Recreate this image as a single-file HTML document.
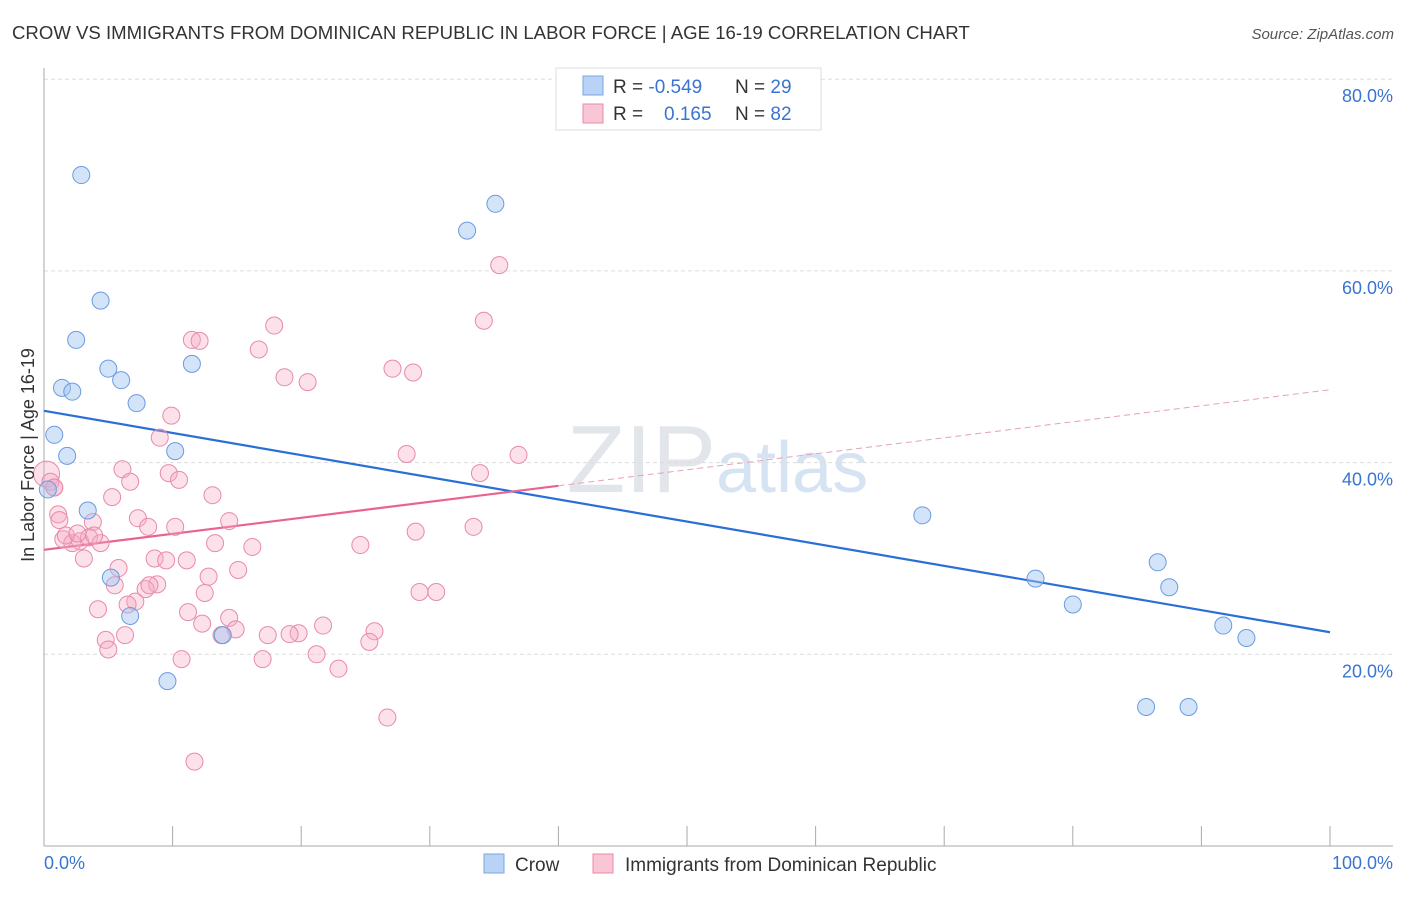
<!DOCTYPE html>
<html><head><meta charset="utf-8"><style>
body{margin:0;background:#fff;font-family:"Liberation Sans",sans-serif;}
svg text{font-family:"Liberation Sans",sans-serif;}
</style></head><body>
<svg id="chart" width="1406" height="892">
<text x="12" y="39" font-size="18.6" fill="#333">CROW VS IMMIGRANTS FROM DOMINICAN REPUBLIC IN LABOR FORCE | AGE 16-19 CORRELATION CHART</text>
<text x="1394" y="39" font-size="15" fill="#555" font-style="italic" text-anchor="end">Source: ZipAtlas.com</text>
<text x="716" y="492" font-size="96" fill="#e2e5ea" text-anchor="end" font-family="Liberation Serif">ZIP</text>
<text x="716" y="492" font-size="72" fill="#d6e3f3">atlas</text>
<g id="grid"></g><g id="axes"></g><g id="trend"></g><g id="pts"></g>
<text transform="translate(34,455) rotate(-90)" font-size="18" fill="#333" text-anchor="middle">In Labor Force | Age 16-19</text>
<text x="44" y="869" font-size="18" fill="#3a74d0">0.0%</text>
<text x="1393" y="869" font-size="18" fill="#3a74d0" text-anchor="end">100.0%</text>
<g>
<rect x="556" y="68" width="265" height="62" fill="#fff" stroke="#ddd"/>
<rect x="583" y="76" width="20" height="19" fill="#b8d3f5" stroke="#7aa7e0"/>
<rect x="583" y="104" width="20" height="19" fill="#f9c6d6" stroke="#e88aa8"/>
<text x="613" y="93" font-size="19" fill="#333">R = <tspan fill="#3a74d0">-0.549</tspan><tspan x="735">N = </tspan><tspan fill="#3a74d0">29</tspan></text>
<text x="613" y="120" font-size="19" fill="#333">R = <tspan x="664" fill="#3a74d0">0.165</tspan><tspan x="735">N = </tspan><tspan fill="#3a74d0">82</tspan></text>
</g>
<g>
<rect x="484" y="854" width="20" height="19" fill="#b8d3f5" stroke="#7aa7e0"/>
<text x="515" y="871" font-size="19" fill="#333">Crow</text>
<rect x="593" y="854" width="20" height="19" fill="#f9c6d6" stroke="#e88aa8"/>
<text x="625" y="871" font-size="19" fill="#333">Immigrants from Dominican Republic</text>
</g>
</svg>
<script>
const yTicks=[20,40,60,80];
const yTickLabels=["20.0%","40.0%","60.0%","80.0%"];
const xTicks=[0,10,20,30,40,50,60,70,80,90,100];
const crowX=[2.9,35.1,32.9,4.4,2.5,5.0,6.0,11.5,1.4,2.2,7.2,0.8,1.8,10.2,0.3,3.4,5.2,6.7,13.9,9.6,68.3,77.1,80.0,86.6,87.5,91.7,93.5,85.7,89.0];
const crowY=[70.0,67.0,64.2,56.9,52.8,49.8,48.6,50.3,47.8,47.4,46.2,42.9,40.7,41.2,37.2,35.0,28.0,24.0,22.0,17.2,34.5,27.9,25.2,29.6,27.0,23.0,21.7,14.5,14.5];
const domX=[35.4,34.2,17.9,11.5,12.1,16.7,27.1,28.7,18.7,20.5,9.9,9.0,28.2,36.9,0.2,33.9,6.1,9.7,10.5,6.7,0.8,13.1,5.3,1.1,7.3,3.8,14.4,8.1,1.2,10.2,28.9,33.4,1.5,2.2,2.8,3.5,4.4,13.3,16.2,24.6,8.6,11.1,9.5,3.1,15.1,5.8,12.8,5.5,8.8,7.9,8.2,12.5,29.2,30.5,7.1,6.5,4.2,14.4,12.3,14.9,21.7,19.8,11.2,17.4,19.1,25.7,25.3,6.3,4.8,13.8,5.0,21.2,10.7,17.0,22.9,26.7,11.7,0.5,1.7,2.6,3.9,0.8];
const domY=[60.6,54.8,54.3,52.8,52.7,51.8,49.8,49.4,48.9,48.4,44.9,42.6,40.9,40.8,38.8,38.9,39.3,38.9,38.2,38.0,37.4,36.6,36.4,34.6,34.2,33.8,33.9,33.3,34.0,33.3,32.8,33.3,32.0,31.6,31.8,32.2,31.6,31.6,31.2,31.4,30.0,29.8,29.8,30.0,28.8,29.0,28.1,27.2,27.3,26.8,27.2,26.4,26.5,26.5,25.5,25.2,24.7,23.8,23.2,22.6,23.0,22.2,24.4,22.0,22.1,22.4,21.3,22.0,21.5,22.0,20.5,20.0,19.5,19.5,18.5,13.4,8.8,38.0,32.4,32.6,32.4,37.4];
const crowTrend=[45.4,22.3];
const domTrend=[30.9,47.6];
const domSolidEnd=40;
const X=v=>44+v*12.86, Y=v=>846-v*9.585;
const NS="http://www.w3.org/2000/svg";
function mk(parent,tag,attrs){const e=document.createElementNS(NS,tag);for(const k in attrs)e.setAttribute(k,attrs[k]);document.getElementById(parent).appendChild(e);return e;}
yTicks.forEach((t,i)=>{
 const l=mk('grid','line',{x1:44,x2:1393,y1:Y(t),y2:Y(t),stroke:'#ddd','stroke-dasharray':'4 3'});
 
 
 const tx=mk('grid','text',{x:1393,y:Y(t)+23,'font-size':18,fill:'#3a74d0','text-anchor':'end'});
 tx.textContent=yTickLabels[i];
 
 
});
const ax=mk('axes','line',{x1:44,x2:44,y1:68,y2:846,stroke:'#aaa'});


const bx=mk('axes','line',{x1:44,x2:1393,y1:846,y2:846,stroke:'#aaa'});


xTicks.forEach(t=>{const l=mk('axes','line',{x1:X(t),x2:X(t),y1:826,y2:846,stroke:'#aaa'});
 
 });
domX.forEach((x,i)=>{const c=mk('pts','circle',{cx:X(x),cy:Y(domY[i]),r:i==14?13:8.5,fill:'rgba(245,170,195,0.35)',stroke:'#e88aa8','stroke-width':1});
 
 });
crowX.forEach((x,i)=>{const c=mk('pts','circle',{cx:X(x),cy:Y(crowY[i]),r:8.5,fill:'rgba(160,195,240,0.45)',stroke:'#6a9be0','stroke-width':1});
 
 });
const dAt=x=>domTrend[0]+(domTrend[1]-domTrend[0])*x/100;
const t1=mk('trend','line',{x1:X(0),y1:Y(crowTrend[0]),x2:X(100),y2:Y(crowTrend[1]),stroke:'#2a6fd6','stroke-width':2.2});


const t2=mk('trend','line',{x1:X(0),y1:Y(dAt(0)),x2:X(domSolidEnd),y2:Y(dAt(domSolidEnd)),stroke:'#e8638f','stroke-width':2.2});


const t3=mk('trend','line',{x1:X(domSolidEnd),y1:Y(dAt(domSolidEnd)),x2:X(100),y2:Y(dAt(100)),stroke:'#e8a0b8','stroke-width':1,'stroke-dasharray':'6 4'});


</script>
</body></html>
